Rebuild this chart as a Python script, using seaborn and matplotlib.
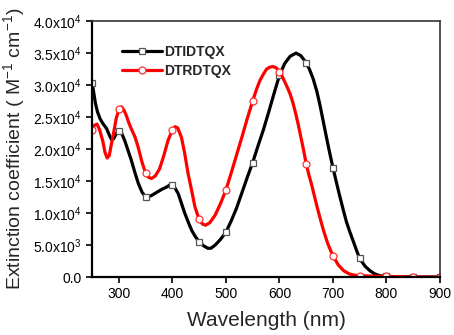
import numpy as np
import pandas as pd
import matplotlib
matplotlib.use("Agg")
import matplotlib.pyplot as plt
import seaborn as sns

# Wavelength (nm) and extinction coefficient (x10^4 M-1 cm-1)
wl_dtidtqx = [250, 253, 256, 260, 265, 270, 277, 282, 286, 290, 295, 300, 305, 311, 317, 323,
              330, 336, 343, 350, 360, 370, 380, 390, 397, 400, 405, 411, 417, 423, 430, 436,
              443, 450, 458, 466, 472, 480, 490, 500, 510, 520, 530, 540, 550, 560, 570, 580,
              590, 600, 610, 620, 631, 640, 650, 656, 663, 670, 676, 682, 688, 694, 700, 706,
              712, 719, 725, 731, 738, 744, 750, 760, 769, 778, 788, 800, 850, 900]
ext_dtidtqx = [3.04, 2.88, 2.72, 2.58, 2.47, 2.40, 2.32, 2.22, 2.15, 2.16, 2.24, 2.29, 2.25, 2.13,
               1.98, 1.83, 1.63, 1.47, 1.33, 1.25, 1.27, 1.32, 1.37, 1.41, 1.45, 1.44, 1.39, 1.30,
               1.15, 1.00, 0.85, 0.73, 0.63, 0.55, 0.49, 0.45, 0.45, 0.50, 0.59, 0.70, 0.88, 1.08,
               1.32, 1.56, 1.79, 2.05, 2.30, 2.58, 2.87, 3.15, 3.34, 3.45, 3.50, 3.46, 3.35, 3.25,
               3.10, 2.90, 2.68, 2.43, 2.18, 1.94, 1.71, 1.50, 1.29, 1.06, 0.87, 0.72, 0.56, 0.42,
               0.29, 0.17, 0.10, 0.05, 0.02, 0.01, 0.00, 0.00]

wl_dtrdtqx = [250, 254, 259, 264, 270, 274, 278, 282, 286, 290, 295, 300, 305, 310, 314, 319,
              323, 330, 336, 343, 350, 355, 361, 368, 376, 384, 392, 400, 405, 410, 417, 423,
              429, 436, 442, 450, 456, 462, 470, 480, 490, 500, 510, 520, 530, 540, 550, 557,
              564, 570, 576, 582, 588, 594, 600, 605, 610, 615, 620, 625, 630, 635, 640, 645,
              650, 655, 660, 665, 670, 676, 682, 690, 700, 710, 720, 730, 740, 750, 800, 850, 900]
ext_dtrdtqx = [2.30, 2.37, 2.39, 2.30, 2.12, 1.95, 1.86, 1.90, 2.08, 2.25, 2.48, 2.62, 2.66, 2.60,
               2.52, 2.40, 2.32, 2.19, 2.03, 1.80, 1.62, 1.56, 1.54, 1.58, 1.69, 1.90, 2.14, 2.30,
               2.35, 2.33, 2.18, 1.93, 1.63, 1.35, 1.10, 0.90, 0.83, 0.81, 0.85, 0.97, 1.15, 1.36,
               1.63, 1.91, 2.19, 2.48, 2.75, 2.93, 3.08, 3.17, 3.25, 3.28, 3.29, 3.27, 3.21, 3.14,
               3.05, 2.96, 2.86, 2.73, 2.57, 2.39, 2.19, 1.99, 1.77, 1.60, 1.45, 1.28, 1.11, 0.92,
               0.74, 0.53, 0.33, 0.19, 0.10, 0.05, 0.03, 0.02, 0.01, 0.00, 0.00]

ytick_vals = [0, 0.5, 1.0, 1.5, 2.0, 2.5, 3.0, 3.5, 4.0]
ytick_labels = ["0.0", "5.0x10$^3$", "1.0x10$^4$", "1.5x10$^4$", "2.0x10$^4$",
                "2.5x10$^4$", "3.0x10$^4$", "3.5x10$^4$", "4.0x10$^4$"]

sns.set_style("ticks")
plt.rcParams['font.family'] = ['Liberation Sans', 'DejaVu Sans']
plt.rcParams['mathtext.fontset'] = 'custom'
plt.rcParams['mathtext.rm'] = 'Liberation Sans'
plt.rcParams['mathtext.it'] = 'Liberation Sans:italic'
plt.rcParams['mathtext.bf'] = 'Liberation Sans:bold'
plt.rcParams['mathtext.default'] = 'regular'

fig = plt.figure(figsize=(4.54, 3.35), dpi=100)
ax = fig.add_axes([0.203, 0.173, 0.766, 0.764])

df1 = pd.DataFrame({'wl': wl_dtidtqx, 'ext': ext_dtidtqx})
df2 = pd.DataFrame({'wl': wl_dtrdtqx, 'ext': ext_dtrdtqx})
marks1 = [i for i, w in enumerate(wl_dtidtqx) if w % 50 == 0]
marks2 = [i for i, w in enumerate(wl_dtrdtqx) if w % 50 == 0]

sns.lineplot(data=df1, x='wl', y='ext', ax=ax, color='black', lw=2.3, marker='s',
             markevery=marks1, mfc='white', mec='#555555', mew=0.9, ms=4.5, label='DTIDTQX')
sns.lineplot(data=df2, x='wl', y='ext', ax=ax, color='#ff0000', lw=2.3, marker='o',
             markevery=marks2, mfc='white', mec='#ff3030', mew=0.9, ms=5, label='DTRDTQX')

ax.set_xlim(250, 900)
ax.set_ylim(0, 4.0)
ax.set_xticks([300, 400, 500, 600, 700, 800, 900])
ax.set_yticks(ytick_vals)
ax.set_yticklabels(ytick_labels)
ax.tick_params(direction='out', length=4, width=1.2, labelsize=10, colors='black')

ax.set_xlabel('Wavelength (nm)', fontsize=15, labelpad=7)
ax.set_ylabel('Extinction coefficient ( M$^{-1}$ cm$^{-1}$)', fontsize=14, labelpad=4)

for s in ['top', 'right']:
    ax.spines[s].set_linewidth(1.2)
    ax.spines[s].set_color('#333333')
for s in ['left', 'bottom']:
    ax.spines[s].set_linewidth(1.6)
    ax.spines[s].set_color('black')

leg = ax.legend(loc='upper left', bbox_to_anchor=(0.05, 0.955), frameon=False,
                handlelength=2.9, handletextpad=0.1, labelspacing=0.35,
                prop={'weight': 'bold', 'size': 10})

fig.savefig('out.png', dpi=100)
